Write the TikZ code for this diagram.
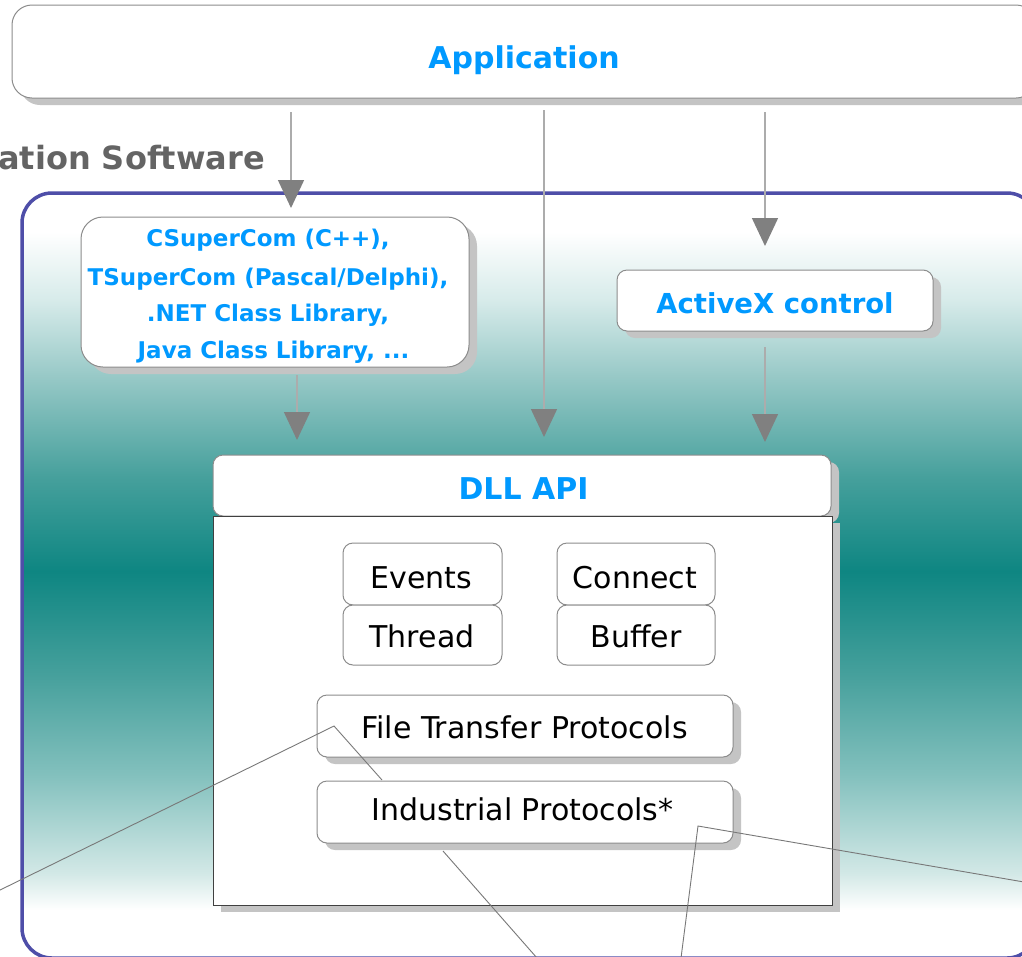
\documentclass[tikz,border=0pt]{standalone}
\usepackage{fontspec}
\setmainfont{DejaVu Sans}
\usetikzlibrary{arrows.meta,shadows}
\definecolor{blu}{RGB}{0,153,255}
\definecolor{obord}{RGB}{78,78,168}
\definecolor{boxgray}{RGB}{140,140,140}
\definecolor{shadowgray}{RGB}{196,196,196}
\definecolor{linegray}{RGB}{172,172,172}
\definecolor{headgray}{RGB}{128,128,128}
\definecolor{leadgray}{RGB}{120,120,120}
\definecolor{labgray}{RGB}{100,100,100}
\definecolor{tbm}{RGB}{14,134,130}
\definecolor{tbA}{RGB}{210,232,230}
\definecolor{tbB}{RGB}{130,192,189}
\definecolor{tbC}{RGB}{70,160,156}
\definecolor{tbD}{RGB}{150,200,198}
\definecolor{tbE}{RGB}{215,235,234}
\pgfdeclareverticalshading{tealband}{100bp}{color(0bp)=(white); color(25bp)=(white); color(28.14bp)=(white); color(30.56bp)=(tbA); color(37.03bp)=(tbB); color(43.5bp)=(tbC); color(50.29bp)=(tbm); color(56.44bp)=(tbC); color(62.91bp)=(tbD); color(68.01bp)=(tbE); color(72.45bp)=(white); color(100bp)=(white)}
\newcommand{\fs}[1]{\fontsize{#1}{#1}\selectfont}
\begin{document}
\begin{tikzpicture}[x=1pt,y=-1pt,
  box/.style={draw=boxgray, fill=white, line width=1pt, inner sep=0pt},
  shad/.style={drop shadow={shadow xshift=8pt, shadow yshift=-7pt, opacity=1, fill=shadowgray}},
  btxt/.style={anchor=base, text=blu, inner sep=0pt, font=\bfseries\fs{#1}},
  ktxt/.style={anchor=base, text=black, inner sep=0pt, font=\fs{30}},
  arr/.style={draw=linegray, line width=1.5pt, -{Triangle[width=26pt,length=28pt,color=headgray]}},
  lead/.style={draw=leadgray, line width=0.9pt}]
\useasboundingbox (0,0) rectangle (1022,956);
\clip (0,0) rectangle (1022,956);
\fill[white] (0,0) rectangle (1022,956);
% outer communication software frame
\node[draw=obord, line width=3.5pt, rounded corners=30pt, shading=tealband, minimum width=1015pt, minimum height=765pt, inner sep=0pt] (csw) at (529.5,575.5) {};
\node[anchor=base west, inner sep=0pt, text=labgray, font=\bfseries\fs{32}] (cswlab) at (-2,169) {ation Software};
% application
\node[box, shad, rounded corners=20pt, minimum width=1024pt, minimum height=93pt] (app) at (524,51.5) {};
\node[btxt=30] (applab) at (524,68) {Application};
% class libraries
\node[box, shad, rounded corners=22pt, minimum width=388pt, minimum height=150pt] (cs) at (275,292) {};
\node[btxt=23] (cs1) at (268,246.7) {CSuperCom (C++),};
\node[btxt=23] (cs2) at (268,285) {TSuperCom (Pascal/Delphi),};
\node[btxt=23] (cs3) at (268,321.7) {.NET Class Library,};
\node[btxt=23] (cs4) at (273.5,358) {Java Class Library, ...};
% activex
\node[box, shad, rounded corners=10pt, minimum width=316pt, minimum height=61pt] (ax) at (775,300.5) {};
\node[btxt=27.5] (axlab) at (775,313) {ActiveX control};
% DLL API
\node[box, shad, rounded corners=10pt, minimum width=618pt, minimum height=61pt] (dll) at (522,485.5) {};
\node[btxt=30] (dlllab) at (523.5,499) {DLL API};
\node[draw=black!75, fill=white, line width=1pt, inner sep=0pt, shad, minimum width=619pt, minimum height=389pt] (core) at (522.5,710.5) {};
% inner modules
\node[box, rounded corners=10pt, minimum width=159pt, minimum height=62pt] (ev) at (422.5,574) {};
\node[box, rounded corners=10pt, minimum width=159pt, minimum height=60pt] (th) at (422.5,635) {};
\node[box, rounded corners=10pt, minimum width=158pt, minimum height=62pt] (cn) at (636,574) {};
\node[box, rounded corners=10pt, minimum width=158pt, minimum height=60pt] (bf) at (636,635) {};
\node[ktxt] (evlab) at (421.5,588) {Events};
\node[ktxt] (cnlab) at (635,588) {Connect};
\node[ktxt] (thlab) at (422,647) {Thread};
\node[ktxt] (bflab) at (636,647) {Buffer};
\node[box, shad, rounded corners=10pt, minimum width=416pt, minimum height=62pt] (ftp) at (525,726) {};
\node[box, shad, rounded corners=10pt, minimum width=416pt, minimum height=62pt] (ind) at (525,812) {};
\node[ktxt] (ftplab) at (524.5,738) {File Transfer Protocols};
\node[ktxt] (indlab) at (522.5,820) {Industrial Protocols*};
% arrows
\coordinate (a1s) at (291,112); \coordinate (a1e) at (291,208);
\coordinate (a2s) at (544,110); \coordinate (a2e) at (544,437);
\coordinate (a3s) at (765,112); \coordinate (a3e) at (765,246);
\coordinate (a4s) at (297,375); \coordinate (a4e) at (297,440);
\coordinate (a5s) at (765,347); \coordinate (a5e) at (765,442);
\draw[arr] (a1s) -- (a1e);
\draw[arr] (a2s) -- (a2e);
\draw[arr] (a3s) -- (a3e);
\draw[arr] (a4s) -- (a4e);
\draw[arr] (a5s) -- (a5e);
% leader lines
\coordinate (p1) at (-4,892); \coordinate (p2) at (334,726); \coordinate (p3) at (382,780);
\coordinate (p4) at (443,851); \coordinate (p5) at (537,958);
\coordinate (p6) at (681,958); \coordinate (p7) at (698,826); \coordinate (p8) at (1024,882);
\draw[lead] (p1) -- (p2) -- (p3);
\draw[lead] (p4) -- (p5);
\draw[lead] (p6) -- (p7) -- (p8);
\end{tikzpicture}
\end{document}
